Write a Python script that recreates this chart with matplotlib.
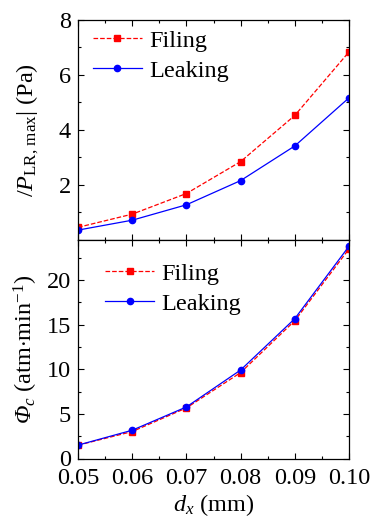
import matplotlib
matplotlib.use("Agg")
import matplotlib.pyplot as plt
from matplotlib.ticker import MultipleLocator

plt.rcParams['font.family'] = ['Liberation Serif', 'DejaVu Serif']
plt.rcParams['mathtext.fontset'] = 'custom'
plt.rcParams['mathtext.rm'] = 'Liberation Serif'
plt.rcParams['mathtext.it'] = 'Liberation Serif:italic'
plt.rcParams['mathtext.bf'] = 'Liberation Serif:bold'
plt.rcParams['mathtext.cal'] = 'Liberation Serif:italic'

dx = [0.05, 0.06, 0.07, 0.08, 0.09, 0.10]
p_filing = [0.46, 0.94, 1.69, 2.85, 4.53, 6.84]
p_leaking = [0.36, 0.72, 1.28, 2.16, 3.42, 5.17]
phi_filing = [1.49, 3.02, 5.67, 9.63, 15.45, 23.5]
phi_leaking = [1.50, 3.17, 5.78, 9.92, 15.68, 23.8]
xticks = [0.05, 0.06, 0.07, 0.08, 0.09, 0.10]
xticklabels = ['0.05', '0.06', '0.07', '0.08', '0.09', '0.10']

W, H = 372, 523
fig = plt.figure(figsize=(W/100, H/100), dpi=100)
left, right = 78/W, 349/W
ax1 = fig.add_axes([left, 1-240/H, right-left, 220/H])
ax2 = fig.add_axes([left, 1-458.5/H, right-left, 218.5/H], sharex=ax1)

fs = 17.5
for ax in (ax1, ax2):
    ax.tick_params(which='both', direction='in', top=True, right=True, labelsize=fs, width=0.8)
    ax.tick_params(which='major', length=4, pad=5)
    ax.tick_params(which='minor', length=2.5)
    for s in ax.spines.values():
        s.set_linewidth(0.9)

ax1.plot(dx, p_filing, '--', color='#ff0000', marker='s', markersize=4, lw=0.9, label='Filing')
ax1.plot(dx, p_leaking, '-', color='#0000ff', marker='o', markersize=4.5, lw=0.9, label='Leaking')
ax1.set_ylim(0, 8)
ax1.set_yticks([2, 4, 6, 8])
ax1.yaxis.set_minor_locator(MultipleLocator(1))
ax1.set_ylabel(r'$/P_{\mathrm{LR,\,max}}|$ (Pa)', fontsize=fs)
ax1.yaxis.set_label_coords(-0.135, 0.5)
ax1.tick_params(labelbottom=False)
ax1.legend(loc='upper left', fontsize=fs, frameon=False, handlelength=2.0,
           handletextpad=0.3, borderaxespad=0.0, labelspacing=0.32,
           bbox_to_anchor=(0.02, 1.0))

ax2.plot(dx, phi_filing, '--', color='#ff0000', marker='s', markersize=4, lw=0.9, label='Filing')
ax2.plot(dx, phi_leaking, '-', color='#0000ff', marker='o', markersize=4.5, lw=0.9, label='Leaking')
ax2.set_ylim(0, 24.5)
ax2.set_yticks([0, 5, 10, 15, 20])
ax2.yaxis.set_minor_locator(MultipleLocator(2.5))
ax2.set_xlim(0.05, 0.10)
ax2.set_xticks(xticks)
ax2.set_xticklabels(xticklabels)
ax2.xaxis.set_minor_locator(MultipleLocator(0.005))
ax2.tick_params(axis='x', which='major', pad=7)
ax2.set_ylabel(r'$\mathcal{Φ}_{c}$ (atm$\cdot$min$^{-1}$)', fontsize=fs)
ax2.yaxis.set_label_coords(-0.14, 0.5)
ax2.set_xlabel(r'$d_x$ (mm)', fontsize=fs, labelpad=2)
ax2.legend(loc='upper left', fontsize=fs, frameon=False, handlelength=2.0,
           handletextpad=0.3, borderaxespad=0.0, labelspacing=0.32,
           bbox_to_anchor=(0.065, 0.94))

fig.savefig('out.png', dpi=100)
